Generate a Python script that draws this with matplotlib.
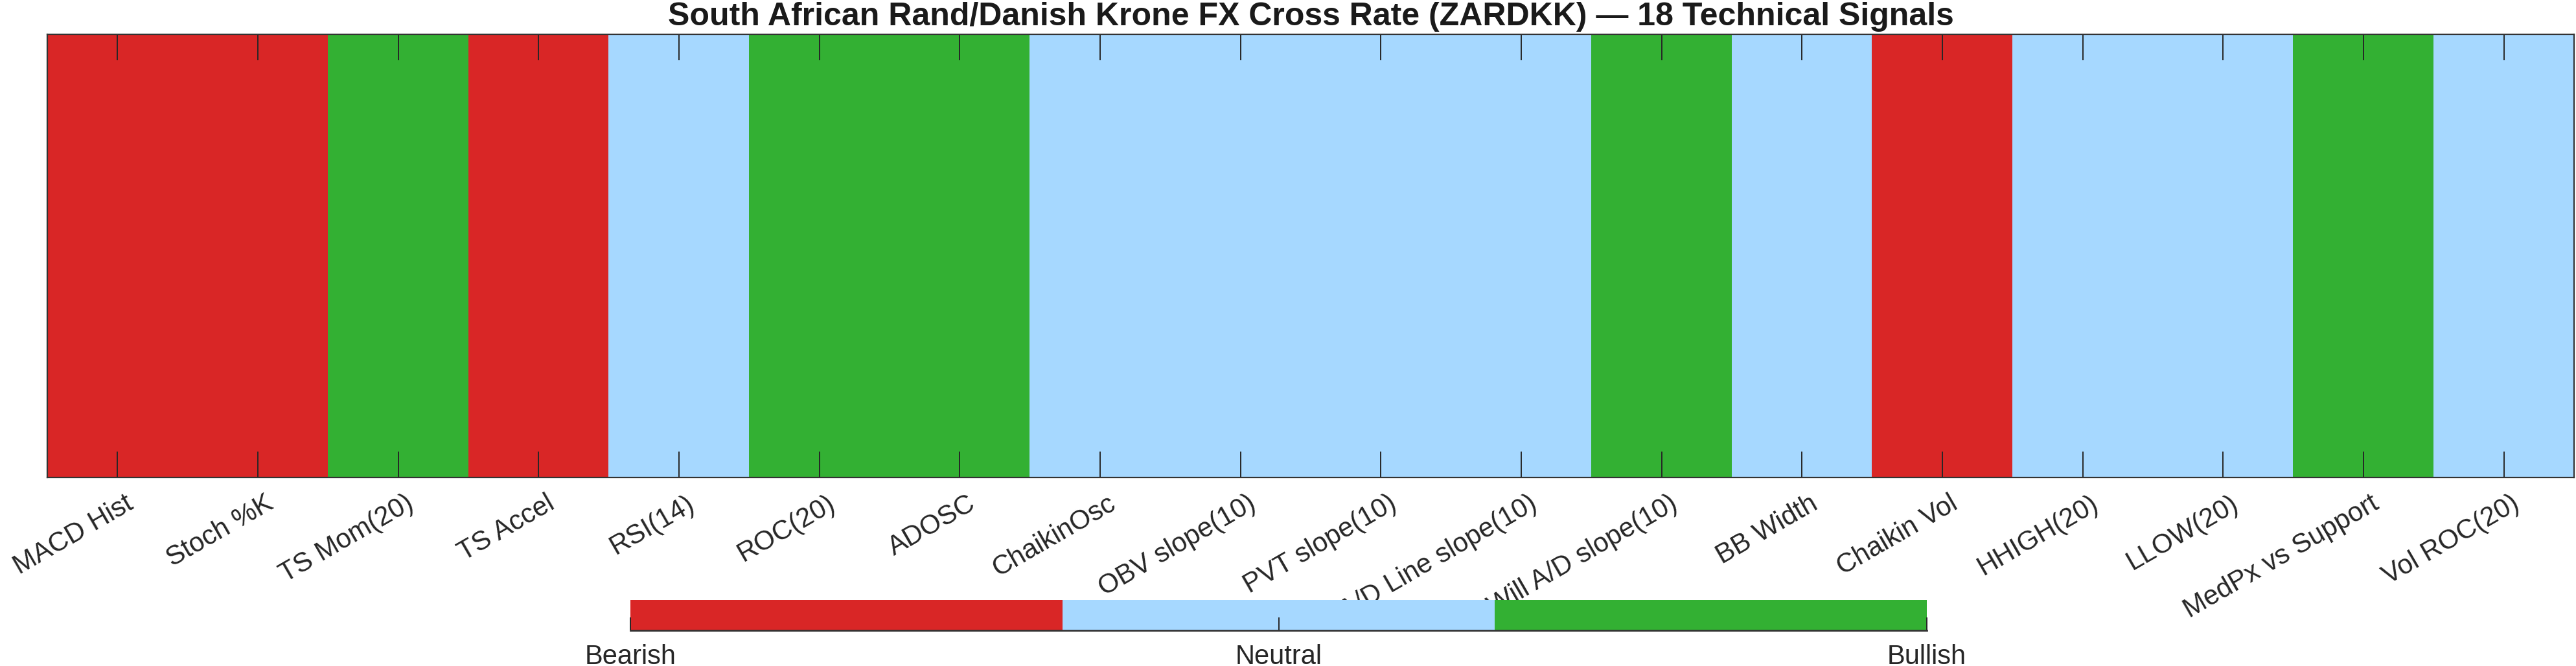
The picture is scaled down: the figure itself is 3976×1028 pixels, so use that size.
import numpy as np
import matplotlib
matplotlib.use("Agg")
import matplotlib.pyplot as plt
import matplotlib.transforms as mtransforms
from matplotlib.colors import ListedColormap

# datos de las señales (-1 bajista, 0 neutral, 1 alcista)
indicadores = ["MACD Hist", "Stoch %K", "TS Mom(20)", "TS Accel", "RSI(14)",
               "ROC(20)", "ADOSC", "ChaikinOsc", "OBV slope(10)", "PVT slope(10)",
               "A/D Line slope(10)", "Will A/D slope(10)", "BB Width", "Chaikin Vol",
               "HHIGH(20)", "LLOW(20)", "MedPx vs Support", "Vol ROC(20)"]
senales = [-1, -1, 1, -1, 0, 1, 1, 0, 0, 0, 0, 1, 0, -1, 0, 0, 1, 0]
estados = ["Bearish", "Neutral", "Bullish"]
niveles = [-1, 0, 1]
titulo = "South African Rand/Danish Krone FX Cross Rate (ZARDKK) \u2014 18 Technical Signals"

colores = ["#D92626", "#A6D8FF", "#33B033"]
gris = "#262626"
borde = "#333333"

plt.rcParams["font.family"] = ["Liberation Sans", "DejaVu Sans"]

fig = plt.figure(figsize=(39.76, 10.28), dpi=100)
ax = fig.add_axes([73 / 3976, 1 - 737 / 1028, 3900 / 3976, 684 / 1028])
cax = fig.add_axes([973 / 3976, 1 - 973 / 1028, 2001 / 3976, 47 / 1028])

cmap = ListedColormap(colores)
im = ax.imshow(np.array([senales]), cmap=cmap, vmin=-1, vmax=1,
               aspect="auto", interpolation="nearest")

ax.set_xticks(np.arange(len(indicadores)))
ax.set_xticklabels(indicadores, rotation=30, ha="right", va="center",
                   rotation_mode="anchor", fontsize=30, color=gris)
ax.set_yticks([])
ax.tick_params(axis="x", direction="in", length=28.8, width=1.4, color=gris,
               top=True, bottom=True, pad=27)
desplaza = mtransforms.ScaledTranslation(0.21, 0, fig.dpi_scale_trans)
for etiqueta in ax.get_xticklabels():
    etiqueta.set_transform(etiqueta.get_transform() + desplaza)
for s in ax.spines.values():
    s.set_color(borde)
    s.set_linewidth(1.6)

ax.set_title(titulo, fontsize=36, fontweight="bold", color="#1a1a1a", pad=10)

# barra de colores horizontal
cb = fig.colorbar(im, cax=cax, orientation="horizontal", ticks=niveles)
cb.set_ticklabels(estados)
cb.outline.set_visible(False)
cax.spines["bottom"].set_visible(True)
cax.spines["bottom"].set_color(borde)
cax.spines["bottom"].set_linewidth(2.0)
cax.tick_params(axis="x", direction="in", length=14.4, width=1.4, color=gris,
                labelsize=30, labelcolor=gris, pad=15)

fig.savefig("out.png", dpi=100)
